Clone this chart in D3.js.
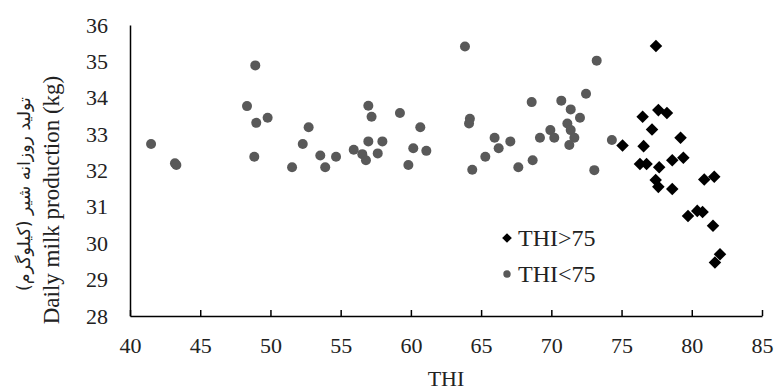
<!DOCTYPE html>
<html>
<head>
<meta charset="utf-8">
<script src="https://cdn.jsdelivr.net/npm/d3@7"></script>
<style>
  html, body { margin: 0; padding: 0; background: #fff; }
  svg { display: block; }
</style>
</head>
<body>
<svg id="chart" width="776" height="390"></svg>
<script>
// THI > 75 (black diamonds)
const thiHigh = [77.45, 76.5, 77.62, 78.23, 77.17, 79.2, 75.07, 76.57, 76.31, 76.78, 77.68, 78.61,
  79.4, 77.43, 77.62, 78.61, 80.89, 81.6, 79.73, 80.39, 80.77, 81.51, 82.01, 81.65];
const milkHigh = [35.42, 33.48, 33.66, 33.58, 33.13, 32.9, 32.69, 32.67, 32.18, 32.18, 32.09, 32.28,
  32.35, 31.74, 31.55, 31.49, 31.75, 31.83, 30.75, 30.89, 30.86, 30.48, 29.7, 29.47];

// THI < 75 (grey circles)
const thiLow = [41.5, 43.2, 43.3, 48.92, 48.33, 48.99, 49.8, 48.85, 52.72, 52.3, 51.54, 53.55, 53.9, 54.67,
  55.93, 56.54, 56.8, 56.97, 56.97, 57.2, 57.64, 57.97, 59.22, 59.82, 60.17, 60.67, 61.1,
  63.85, 64.2, 64.14, 64.37, 65.3, 65.96, 66.25, 67.08, 67.65, 68.67, 68.6, 69.19,
  73.23, 72.47, 70.71, 71.38, 72.04, 71.14, 69.93, 70.21, 71.38, 71.64, 71.28, 73.06, 74.31];
const milkLow = [32.73, 32.2, 32.15, 34.89, 33.77, 33.31, 33.45, 32.38, 33.19, 32.73, 32.09, 32.41, 32.09, 32.38,
  32.57, 32.45, 32.28, 32.8, 33.78, 33.48, 32.47, 32.8, 33.58, 32.15, 32.61, 33.19, 32.54,
  35.41, 33.42, 33.29, 32.02, 32.38, 32.9, 32.61, 32.8, 32.09, 32.28, 33.88, 32.9,
  35.02, 34.11, 33.92, 33.68, 33.45, 33.29, 33.11, 32.9, 33.11, 32.9, 32.7, 32.01, 32.84];

const xTicks = [40, 45, 50, 55, 60, 65, 70, 75, 80, 85];
const yTicks = [28, 29, 30, 31, 32, 33, 34, 35, 36];
const seriesNames = ["THI>75", "THI<75"];
const xTitle = "THI";
const yTitleEn = "Daily milk production (kg)";
const yTitleFa = "تولید روزانه شیر (کیلوگرم)";

(function () {
const svg = d3.select("#chart");
const serif = "'Liberation Serif', 'Times New Roman', serif";
const mLeft = 130, mRight = 762, mTop = 25, mBottom = 316;

const x = d3.scaleLinear().domain([40, 85]).range([mLeft, mRight]);
const y = d3.scaleLinear().domain([28, 36]).range([mBottom, mTop]);

// X axis
const xAxis = svg.append("g").attr("transform", `translate(0,${mBottom})`)
  .call(d3.axisBottom(x).tickValues(xTicks).tickSize(-6).tickPadding(21).tickSizeOuter(0));
xAxis.select(".domain").attr("stroke", "#000").attr("stroke-width", 1.5);
xAxis.selectAll(".tick line").attr("stroke", "#000").attr("stroke-width", 1.5);
xAxis.selectAll("text").attr("font-family", serif).attr("font-size", 22).attr("fill", "#222");

// Y axis
const yAxis = svg.append("g").attr("transform", `translate(${mLeft},0)`)
  .call(d3.axisLeft(y).tickValues(yTicks).tickSize(0).tickPadding(22));
yAxis.select(".domain").attr("stroke", "#000").attr("stroke-width", 1.5);
yAxis.selectAll("text").attr("font-family", serif).attr("font-size", 22).attr("fill", "#222");

// Grey circles
svg.append("g").selectAll("circle").data(thiLow).join("circle")
  .attr("cx", (d) => x(d))
  .attr("cy", (d, i) => y(milkLow[i]))
  .attr("r", 5)
  .attr("fill", "#595959");

// Black diamonds
const diamond = d3.symbol().type(d3.symbolDiamond2).size(100);
svg.append("g").selectAll("path").data(thiHigh).join("path")
  .attr("d", diamond)
  .attr("transform", (d, i) => `translate(${x(d)},${y(milkHigh[i])})`)
  .attr("fill", "#000");

// Axis titles
svg.append("text").attr("x", (mLeft + mRight) / 2).attr("y", 386)
  .attr("text-anchor", "middle").attr("font-family", serif).attr("font-size", 22)
  .attr("fill", "#222").text(xTitle);

svg.append("text").attr("transform", "translate(59,200) rotate(-90)")
  .attr("text-anchor", "middle").attr("font-family", serif).attr("font-size", 23)
  .attr("fill", "#222").text(yTitleEn);

const fa = svg.append("text").attr("transform", "translate(30,194) rotate(-90)")
  .attr("text-anchor", "middle").attr("font-family", "'DejaVu Sans', sans-serif")
  .attr("font-size", 16).attr("direction", "rtl").attr("fill", "#222").text(yTitleFa);
const len = fa.node().getComputedTextLength();
if (len > 0) fa.attr("font-size", 16 * 194 / len);

// Legend
const legend = svg.append("g");
legend.append("path").attr("d", d3.symbol().type(d3.symbolDiamond2).size(60))
  .attr("transform", "translate(507,238)").attr("fill", "#000");
legend.append("text").attr("x", 518).attr("y", 238).attr("dy", "0.35em")
  .attr("font-family", serif).attr("font-size", 24).attr("fill", "#222").text(seriesNames[0]);
legend.append("circle").attr("cx", 507).attr("cy", 274).attr("r", 3.7).attr("fill", "#595959");
legend.append("text").attr("x", 518).attr("y", 274).attr("dy", "0.35em")
  .attr("font-family", serif).attr("font-size", 24).attr("fill", "#222").text(seriesNames[1]);
})();
</script>
</body>
</html>
